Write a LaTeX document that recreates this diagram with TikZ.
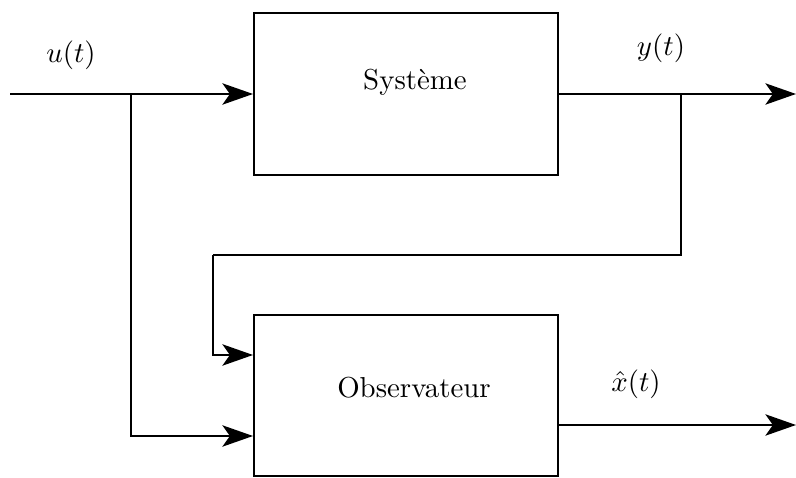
\documentclass[tikz,border=0pt]{standalone}
\usetikzlibrary{arrows.meta}
\begin{document}
\begin{tikzpicture}[x=0.3464pt,y=-0.3464pt,
  blk/.style={draw,line width=0.7pt,minimum width=105.3pt,minimum height=55.8pt,inner sep=0pt},
  wire/.style={line width=0.7pt},
  arr/.style={wire,-{Stealth[length=10.6pt,width=7.4pt,inset=2.6pt]}},
  lbl/.style={inner sep=0pt}]
\useasboundingbox (0,0) rectangle (796,478);
\node[blk] (sys) at (406,94) {};
\node[blk] (obs) at (406,395.5) {};
\node[lbl] (systxt) at (415,82) {Système};
\node[lbl] (obstxt) at (414,388) {Observateur};
\node[lbl] (ulbl) at (71,55) {$u(t)$};
\node[lbl] (ylbl) at (661,48) {$y(t)$};
\node[lbl] (xlbl) at (636,384) {$\hat{x}(t)$};
\coordinate (in) at (10,94);
\coordinate (ub) at (131,94);
\coordinate (yb) at (681,94);
\coordinate (yout) at (796,94);
\coordinate (xout) at (796,425);
\coordinate (fb) at (213,255);
\draw[arr] (in) -- (sys.west);
\draw[arr] (ub) |- (obs.west |- 0,436);
\draw[arr] (sys.east) -- (yout);
\draw[wire] (yb) |- (fb);
\draw[arr] (fb) |- (obs.west |- 0,355);
\draw[arr] (obs.east |- 0,425) -- (xout);
\end{tikzpicture}
\end{document}
